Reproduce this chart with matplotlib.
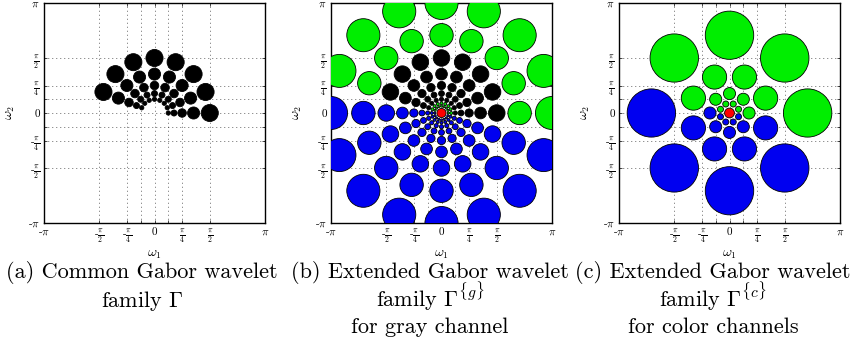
import numpy as np
import matplotlib as mpl
import matplotlib.pyplot as plt
from matplotlib.patches import Circle

mpl.rcParams['mathtext.fontset'] = 'cm'
mpl.rcParams['font.family'] = ['cmr10', 'DejaVu Serif']
mpl.rcParams['axes.unicode_minus'] = False

# ring radii (rad) and orientations (deg)
angles_upper = [0, 22.5, 45, 67.5, 90, 112.5, 135, 157.5]
angles_lower = [180, 202.5, 225, 247.5, 270, 292.5, 315, 337.5]

# (a) common family
rings_a = [1.571, 1.111, 0.785, 0.555, 0.393]

# (b) extended family, gray channel
rings_b_green_out = [3.142, 2.221]
rings_b_black = [1.571, 1.111, 0.785, 0.555, 0.393]
rings_b_green_in = [0.278, 0.196]
rings_b_blue = [3.142, 2.221, 1.571, 1.111, 0.785, 0.555, 0.393, 0.278, 0.196]
dc_b = 0.13

# (c) extended family, color channels
rings_c = [2.221, 1.111, 0.555, 0.278]
offsets_c = [0, 22.5, 0, 22.5]
angles_c = [0, 45, 90, 135, 180, 225, 270, 315]
dc_c = 0.14

tick_pos = [-np.pi, -np.pi/2, -np.pi/4, 0, np.pi/4, np.pi/2, np.pi]
tick_lab = [r'-$\pi$', r'-$\frac{\pi}{2}$', r'-$\frac{\pi}{4}$', '0',
            r'$\frac{\pi}{4}$', r'$\frac{\pi}{2}$', r'$\pi$']
minor_pos = [-np.pi/8, np.pi/8]

GREEN = '#00ee00'
BLUE = '#0000f0'
RED = '#ff0000'

captions = [
    ['(a) Common Gabor wavelet', r'family $\Gamma$'],
    ['(b) Extended Gabor wavelet', r'family $\Gamma^{\{g\}}$', 'for gray channel'],
    ['(c) Extended Gabor wavelet', r'family $\Gamma^{\{c\}}$', 'for color channels'],
]


def ring(ax, r, angles, color, frac):
    for a in angles:
        t = np.deg2rad(a)
        ax.add_patch(Circle((r*np.cos(t), r*np.sin(t)), frac*r, facecolor=color,
                            edgecolor='k', linewidth=0.6, zorder=3))


def setup(ax):
    ax.set_xlim(-np.pi, np.pi)
    ax.set_ylim(-np.pi, np.pi)
    ax.set_xticks(tick_pos)
    ax.set_xticklabels(tick_lab)
    ax.set_yticks(tick_pos)
    ax.set_yticklabels(tick_lab)
    ax.set_xticks(minor_pos, minor=True)
    ax.set_yticks(minor_pos, minor=True)
    ax.tick_params(which='both', direction='in', top=True, right=True,
                   length=2.5, width=0.5, labelsize=8, pad=3)
    ax.grid(which='both', color='k', linestyle=(0, (0.8, 4)), linewidth=0.6, zorder=0)
    ax.set_axisbelow(True)
    for s in ax.spines.values():
        s.set_linewidth(1.0)
    ax.set_xlabel(r'$\omega_1$', fontsize=10)
    ax.set_ylabel(r'$\omega_2$', fontsize=10)
    ax.xaxis.set_label_coords(0.5, -0.115)
    ax.yaxis.set_label_coords(-0.12, 0.5)


fig = plt.figure(figsize=(8.56, 3.51), dpi=100)
W, H = 856.0, 351.0
lefts = [44, 331, 619]
axs = [fig.add_axes([l/W, (H-223)/H, 221/W, 220/H]) for l in lefts]
for ax in axs:
    setup(ax)

# (a)
for r in rings_a:
    ring(axs[0], r, angles_upper, 'k', 0.155)

# (b)
for r in rings_b_blue:
    ring(axs[1], r, angles_lower, BLUE, 0.15)
for r in rings_b_green_out + rings_b_green_in:
    ring(axs[1], r, angles_upper, GREEN, 0.15)
for r in rings_b_black:
    ring(axs[1], r, angles_upper, 'k', 0.15)
axs[1].add_patch(Circle((0, 0), dc_b, facecolor=RED, edgecolor='k', linewidth=0.6, zorder=4))

# (c)
for r, off in zip(rings_c, offsets_c):
    up = [a + off for a in angles_c if a + off < 180]
    lo = [a + off for a in angles_c if a + off >= 180]
    ring(axs[2], r, up, GREEN, 0.31)
    ring(axs[2], r, lo, BLUE, 0.31)
axs[2].add_patch(Circle((0, 0), dc_c, facecolor=RED, edgecolor='k', linewidth=0.6, zorder=4))

# captions
centers = [142, 430, 713]
baselines = [278, 307, 333]
for cx, lines in zip(centers, captions):
    for y, s in zip(baselines, lines):
        fig.text(cx/W, 1 - y/H, s, ha='center', va='baseline', fontsize=16)

fig.savefig('out.png', dpi=100)
